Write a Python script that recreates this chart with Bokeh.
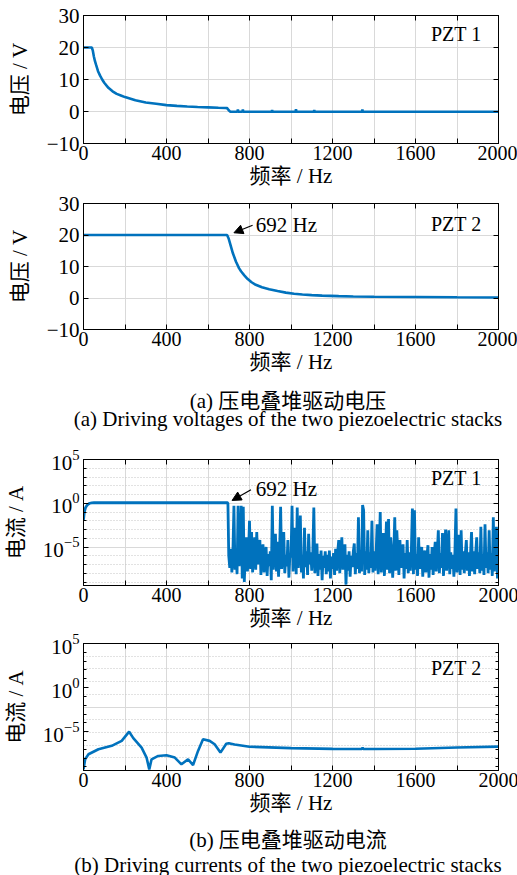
from bokeh.plotting import figure
from bokeh.layouts import column
from bokeh.models import (Range1d, FixedTicker, LinearAxis, Label, Arrow, NormalHead,
                          CustomLabelingPolicy)
from bokeh.embed import file_html
from bokeh.resources import INLINE

# ---------------- data ----------------
FREQ_TICKS = [0, 200, 400, 600, 800, 1000, 1200, 1400, 1600, 1800, 2000]
FREQ_LABELS = {0: "0", 200: "", 400: "400", 600: "", 800: "800", 1000: "",
               1200: "1200", 1400: "", 1600: "1600", 1800: "", 2000: "2000"}
VOLT_TICKS = [-10, 0, 10, 20, 30]
VOLT_LABELS = {-10: "\u221210", 0: "0", 10: "10", 20: "20", 30: "30"}
CURR_TICKS = [1e-5, 1.0, 1e5]
CURR_MINOR = [1e-9, 1e-8, 1e-7, 1e-6, 1e-4, 1e-3, 1e-2, 1e-1, 1e1, 1e2, 1e3, 1e4]

# PZT 1 driving voltage (V)
V1_FREQ = [0, 40, 45, 50, 55, 60, 70, 80, 90, 100, 120, 140, 160, 180, 200, 250, 300,
           350, 400, 450, 500, 550, 600, 650, 685, 692, 700, 708, 742, 744, 746, 766,
           768, 770, 907, 909, 911, 1022, 1024, 1026, 1110, 1112, 1114, 1342, 1344,
           1346, 2000]
V1_VOLT = [20, 20, 19.0, 17.2, 15.8, 14.7, 12.6, 11.2, 10.0, 9.0, 7.4, 6.3, 5.5, 5.0,
           4.5, 3.5, 2.8, 2.4, 2.0, 1.75, 1.55, 1.42, 1.3, 1.18, 1.1, 1.05, 0.4, -0.1,
           -0.1, 0.6, -0.1, -0.1, 0.6, -0.1, -0.1, 0.5, -0.1, -0.1, 0.7, -0.1, -0.1,
           0.5, -0.1, -0.1, 0.6, -0.1, -0.1]

# PZT 2 driving voltage (V)
V2_FREQ = [0, 692, 700, 710, 720, 735, 750, 760, 775, 790, 810, 830, 860, 895, 935,
           975, 1015, 1055, 1100, 1150, 1230, 1300, 1400, 1600, 1800, 2000]
V2_VOLT = [20, 20, 18.8, 16.5, 14.2, 11.5, 9.4, 8.4, 7.2, 6.1, 5.0, 4.2, 3.4, 2.8,
           2.2, 1.7, 1.35, 1.1, 0.9, 0.75, 0.6, 0.5, 0.4, 0.3, 0.22, 0.18]

# PZT 1 driving current, log10(A): below 692 Hz, then the noisy part every 5 Hz from 700 Hz
I1_FREQ_LOW = [0, 3, 6, 10, 15, 20, 30, 40, 50, 692, 696]
I1_LOG_LOW = [-1.9, -1.2, -0.8, -0.5, -0.3, -0.15, 0.0, 0.05, 0.06, 0.06, 0.04]
I1_NOISE_START = 700
I1_NOISE_STEP = 5
I1_LOG_NOISE = [
    -6.0, -7.4, -5.2, -7.9, -5.6, -0.3, -7.6, -5.4, -8.1, -0.3, -7.2, -5.8, -0.3, -8.6, -0.4, -9.0, -5.5, -3.9, -7.8, -6.0,
    -2.0, -7.5, -3.3, -7.9, -5.3, -3.9, -7.6, -3.3, -7.0, -5.0, -4.2, -8.2, -5.6, -4.7, -7.9, -6.1, -5.0, -8.3, -5.8, -7.2,
    -5.5, -8.8, -0.3, -7.6, -5.4, -3.5, -7.8, -4.4, -8.4, -5.6, -0.4, -7.5, -5.2, -3.3, -8.0, -5.9, -7.2, -4.2, -8.5, -5.7,
    -6.2, -0.3, -7.8, -5.4, -2.8, -8.1, -0.5, -7.4, -5.3, -1.4, -7.9, -5.9, -8.6, -2.8, -7.3, -5.5, -8.2, -3.5, -7.0, -5.6,
    -7.7, -5.8, -0.5, -8.0, -5.5, -4.6, -8.3, -5.8, -7.6, -5.4, -8.8, -6.0, -7.4, -5.5, -8.1, -5.9, -7.8, -5.4, -8.6, -6.1,
    -7.5, -5.7, -8.2, -5.2, -7.7, -5.6, -4.2, -8.0, -5.5, -3.9, -7.6, -5.8, -4.7, -9.3, -5.9, -7.7, -5.5, -8.4, -6.0, -7.3,
    -5.6, -4.6, -8.1, -5.7, -7.5, -1.6, -8.0, -5.4, -7.8, -0.2, -0.8, -8.2, -5.5, -7.6, -3.1, -8.0, -5.6, -7.4, -2.0, -7.9,
    -5.5, -7.7, -5.8, -2.4, -8.1, -5.6, -1.0, -7.9, -5.4, -3.4, -8.3, -5.7, -2.1, -7.6, -1.8, -8.0, -3.9, -5.5, -8.5, -5.9,
    -1.6, -7.7, -3.1, -5.8, -8.2, -4.2, -7.4, -5.6, -4.7, -8.6, -5.7, -7.5, -4.2, -8.0, -5.6, -7.7, -5.4, -0.6, -8.1, -0.8,
    -7.6, -5.8, -8.3, -3.9, -7.5, -5.9, -5.0, -8.4, -6.0, -5.4, -7.9, -6.1, -4.8, -8.5, -5.8, -7.6, -5.0, -8.2, -5.9, -4.4,
    -7.8, -5.6, -3.1, -8.0, -5.7, -7.4, -3.4, -8.3, -5.5, -3.0, -7.7, -5.8, -3.1, -8.1, -5.6, -7.5, -5.9, -8.4, -5.5, -0.6,
    -7.9, -5.7, -3.6, -8.2, -3.1, -7.6, -5.5, -8.0, -5.8, -4.2, -7.7, -5.6, -8.3, -5.9, -3.3, -7.8, -5.5, -8.1, -5.7, -3.9,
    -7.5, -5.6, -8.0, -2.7, -7.7, -5.8, -8.2, -2.4, -7.4, -5.6, -8.0, -3.1, -7.6, -5.7, -8.3, -1.6, -7.8, -5.5, -2.7, -8.6, -5.9,
]

# PZT 2 driving current, log10(A)
I2_FREQ = [0, 8, 24, 72, 136, 184, 220, 240, 280, 304, 317, 328, 360, 400, 440, 472,
           504, 528, 552, 576, 608, 632, 660, 688, 700, 728, 800, 1000, 1200, 1342,
           1345, 1348, 1400, 1600, 1800, 2000]
I2_LOG = [-9.27, -8.13, -7.56, -6.99, -6.6, -6.04, -5.0, -5.73, -6.8, -7.94, -9.27,
          -8.13, -7.75, -7.67, -7.94, -8.7, -8.13, -8.78, -7.18, -5.85, -6.04, -6.42,
          -7.37, -6.36, -6.3, -6.45, -6.7, -6.86, -6.95, -6.97, -6.8, -6.97, -6.97,
          -6.93, -6.8, -6.69]

CAPTIONS_A = ["(a) 压电叠堆驱动电压", "(a) Driving voltages of the two piezoelectric stacks"]
CAPTIONS_B = ["(b) 压电叠堆驱动电流", "(b) Driving currents of the two piezoelectric stacks"]

# ---------------- style ----------------
FONT = "'Liberation Serif', 'Noto Sans CJK SC'"
BLUE = "#0072BD"
FS = "21px"
TICK_FS = "20px"
LOG_LO, LOG_HI = 10 ** -9.4, 1e5
PAGE_W = 517
LEFT = 80
FRAME_W = 415
RIGHT = PAGE_W - LEFT - FRAME_W

NO_LABELS = CustomLabelingPolicy(code="""
    for (const i of indices)
        indices.unset(i)
    return indices
""")


def style_axis(ax, labels=True):
    ax.axis_line_color = "black"
    ax.major_tick_line_color = "black"
    ax.minor_tick_line_color = "black"
    ax.major_tick_in = 5
    ax.major_tick_out = 0
    ax.minor_tick_in = 3
    ax.minor_tick_out = 0
    ax.major_label_text_font = FONT
    ax.major_label_text_font_size = TICK_FS if labels else "0px"
    ax.major_label_text_color = "black"
    ax.axis_label_text_font = FONT
    ax.axis_label_text_font_size = FS
    ax.axis_label_text_font_style = "normal"
    ax.axis_label_text_color = "black"
    if not labels:
        ax.major_label_policy = NO_LABELS
        ax.major_label_standoff = 0


def make_fig(log, top, fh, bottom, ylabel):
    kw = dict(frame_width=FRAME_W, frame_height=fh, min_border_left=LEFT,
              min_border_right=RIGHT, min_border_top=top, min_border_bottom=bottom,
              x_range=Range1d(0, 2000), output_backend="svg", toolbar_location=None,
              x_axis_label="频率 / Hz", y_axis_label=ylabel)
    if log:
        p = figure(y_axis_type="log", y_range=Range1d(LOG_LO, LOG_HI), **kw)
        yt = FixedTicker(ticks=CURR_TICKS, minor_ticks=CURR_MINOR)
    else:
        p = figure(y_range=Range1d(-10, 30), **kw)
        yt = FixedTicker(ticks=VOLT_TICKS)
    bottom_ax = p.below[0]
    left_ax = p.left[0]
    bottom_ax.ticker = FixedTicker(ticks=FREQ_TICKS)
    bottom_ax.major_label_overrides = FREQ_LABELS
    left_ax.ticker = yt
    if not log:
        left_ax.major_label_overrides = VOLT_LABELS
    top_ax = LinearAxis(ticker=FixedTicker(ticks=FREQ_TICKS))
    right_ax = LinearAxis(ticker=FixedTicker(ticks=yt.ticks, minor_ticks=yt.minor_ticks))
    p.add_layout(top_ax, "above")
    p.add_layout(right_ax, "right")
    style_axis(bottom_ax)
    style_axis(left_ax)
    left_ax.major_label_text_font_size = FS
    style_axis(top_ax, labels=False)
    style_axis(right_ax, labels=False)
    bottom_ax.major_label_standoff = 2
    bottom_ax.axis_label_standoff = 1
    left_ax.major_label_standoff = 4
    left_ax.axis_label_standoff = 12
    p.xgrid.ticker = FixedTicker(ticks=FREQ_TICKS)
    p.ygrid.ticker = FixedTicker(ticks=yt.ticks, minor_ticks=yt.minor_ticks)
    for g in (p.xgrid, p.ygrid):
        g.grid_line_color = "#d9d9d9"
        g.grid_line_width = 1
    if log:
        p.ygrid.minor_grid_line_color = "#c4c4c4"
        p.ygrid.minor_grid_line_dash = "1 2"
    p.outline_line_color = "black"
    p.background_fill_color = "white"
    p.border_fill_color = "white"
    return p


def corner_label(p, text, y):
    p.add_layout(Label(x=FRAME_W - 17, y=y, x_units="screen", y_units="screen", text=text,
                       text_align="right", text_baseline="middle",
                       text_font=FONT, text_font_size="20px", text_color="black"))


def marker_note(p, tx, ty, sx, sy, ex, ey):
    p.add_layout(Arrow(end=NormalHead(size=9, fill_color="black", line_color="black"),
                       x_start=sx, y_start=sy, x_end=ex, y_end=ey,
                       line_color="black", line_width=1.2))
    p.add_layout(Label(x=tx, y=ty, text="692 Hz", text_align="left", text_baseline="middle",
                       text_font=FONT, text_font_size=FS, text_color="black"))


def caption_fig(lines, h, ys):
    # full-width frame, not aligned with the chart frames, so long captions are not clipped
    c = figure(frame_width=PAGE_W, frame_height=h, min_border=0, frame_align=False,
               x_range=Range1d(0, PAGE_W), y_range=Range1d(0, h),
               x_axis_location=None, y_axis_location=None,
               output_backend="svg", toolbar_location=None)
    c.grid.visible = False
    c.outline_line_color = None
    c.background_fill_color = "white"
    c.border_fill_color = "white"
    for text, y in zip(lines, ys):
        c.add_layout(Label(x=LEFT + FRAME_W / 2, y=h - y, text=text, text_align="center",
                           text_baseline="middle", text_font=FONT, text_font_size=FS,
                           text_color="black"))
    return c


# ---- (a) PZT 1 voltage: page y 0..190, frame 15..143
p1 = make_fig(False, 15, 128, 47, "电压 / V")
p1.line(V1_FREQ, V1_VOLT, line_color=BLUE, line_width=2.6)
corner_label(p1, "PZT 1", 128 - 18.5)

# ---- (a) PZT 2 voltage: page y 190..376, frame 203..329
p2 = make_fig(False, 13, 126, 47, "电压 / V")
p2.line(V2_FREQ, V2_VOLT, line_color=BLUE, line_width=2.6)
corner_label(p2, "PZT 2", 126 - 20)
marker_note(p2, 830, 23.1, 815, 23.1, 725, 20.7)

# captions (a): page y 376..435
cap_a = caption_fig(CAPTIONS_A, 59, [24, 42])

# ---- (b) PZT 1 current: page y 435..632, frame 459..585
i1_freq = I1_FREQ_LOW + [I1_NOISE_START + I1_NOISE_STEP * k for k in range(len(I1_LOG_NOISE))]
i1_val = [10 ** v for v in I1_LOG_LOW + I1_LOG_NOISE]
p3 = make_fig(True, 24, 126, 47, "电流 / A")
p3.line(i1_freq, i1_val, line_color=BLUE, line_width=2.8)
corner_label(p3, "PZT 1", 126 - 18.5)
marker_note(p3, 830, 10 ** 1.65, 807, 10 ** 1.55, 716, 10 ** 0.32)

# ---- (b) PZT 2 current: page y 632..817, frame 643..770
p4 = make_fig(True, 11, 127, 47, "电流 / A")
p4.line(I2_FREQ, [10 ** v for v in I2_LOG], line_color=BLUE, line_width=2.6)
mid = (-9.4 + 5) / 2
step = 14.4 / 10
p4.ygrid.ticker = FixedTicker(ticks=[10 ** mid],
                              minor_ticks=[10 ** (-9.4 + step * k) for k in range(1, 10) if k != 5])
corner_label(p4, "PZT 2", 127 - 24)

# captions (b): page y 817..875
cap_b = caption_fig(CAPTIONS_B, 58, [22, 47])

layout = column(p1, p2, cap_a, p3, p4, cap_b, spacing=0)
open("out.html", "w").write(file_html(layout, INLINE))
